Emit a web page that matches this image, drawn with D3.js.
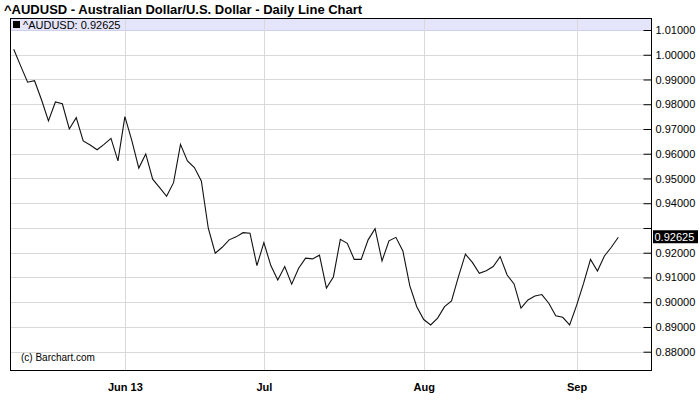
<!DOCTYPE html>
<html>
<head>
<meta charset="utf-8">
<script src="https://cdn.jsdelivr.net/npm/d3@7"></script>
<style>
    body { margin: 0; background: #fff; }
    svg text { font-family: "Liberation Sans", Arial, sans-serif; }
</style>
</head>
<body>
<script>
// daily closes, 10 May 2013 .. 10 Sep 2013 (trading days)
var closes = [
    1.0022, 0.9955, 0.9889, 0.9895, 0.9818, 0.9733, 0.9809, 0.9802, 0.9700, 0.9746,
    0.9652, 0.9635, 0.9616, 0.9638, 0.9662, 0.9571, 0.9750, 0.9653, 0.9542, 0.9599,
    0.9497, 0.9463, 0.9428, 0.9483, 0.9638, 0.9571, 0.9544, 0.9490, 0.9299, 0.9198,
    0.9222, 0.9252, 0.9264, 0.9281, 0.9279, 0.9148, 0.9241, 0.9148, 0.9090, 0.9144,
    0.9073, 0.9137, 0.9178, 0.9175, 0.9190, 0.9057, 0.9102, 0.9254, 0.9238, 0.9173,
    0.9173, 0.9252, 0.9297, 0.9167, 0.9248, 0.9262, 0.9207, 0.9066, 0.8982, 0.8930,
    0.8908, 0.8936, 0.8982, 0.9005, 0.9103, 0.9194, 0.9161, 0.9117, 0.9127, 0.9144,
    0.9184, 0.9110, 0.9074, 0.8976, 0.9009, 0.9025, 0.9031, 0.8996, 0.8945, 0.8939,
    0.8908, 0.8987, 0.9076, 0.9173, 0.9126, 0.9187, 0.9222, 0.92625
];
var monthIdx = [16, 36, 59, 81];
var monthLabels = ["Jun 13", "Jul", "Aug", "Sep"];
var priceTicks = [0.88, 0.89, 0.90, 0.91, 0.92, 0.93, 0.94, 0.95, 0.96, 0.97, 0.98, 0.99, 1.00, 1.01];
var symbol = "^AUDUSD";
var lastPrice = 0.92625;

var width = 700,
    height = 411;
var plotL = 10.5, plotR = 651.5, plotT = 18.5, plotB = 370.5;

var svg = d3.select("body").append("svg")
    .attr("width", width)
    .attr("height", height);

var x = d3.scaleLinear()
    .domain([0, closes.length - 1])
    .range([13.7, 618.3]);
var y = d3.scaleLinear()
    .domain([0.88, 1.01])
    .range([351.7, 30]);

svg.append("text")
    .attr("x", 4)
    .attr("y", 14)
    .style("font-size", "13px")
    .style("font-weight", "bold")
    .text(symbol + " - Australian Dollar/U.S. Dollar - Daily Line Chart");

// header band
svg.append("rect")
    .attr("x", plotL)
    .attr("y", plotT)
    .attr("width", plotR - plotL)
    .attr("height", 12)
    .attr("fill", "#e4e4fa");
svg.append("line")
    .attr("x1", plotL).attr("x2", plotR)
    .attr("y1", plotT + 12).attr("y2", plotT + 12)
    .attr("stroke", "#cfcfef");

// grid
svg.selectAll(".hgrid").data(priceTicks.filter(function(d) { return d < 1.005; }))
    .enter().append("line")
    .attr("class", "hgrid")
    .attr("x1", plotL).attr("x2", plotR)
    .attr("y1", function(d) { return Math.round(y(d)) + 0.5; })
    .attr("y2", function(d) { return Math.round(y(d)) + 0.5; })
    .attr("stroke", "#d9d9d9");
svg.selectAll(".vgrid").data(monthIdx)
    .enter().append("line")
    .attr("class", "vgrid")
    .attr("x1", function(d) { return Math.round(x(d)) + 0.5; })
    .attr("x2", function(d) { return Math.round(x(d)) + 0.5; })
    .attr("y1", plotT).attr("y2", plotB)
    .attr("stroke", "#d9d9d9");

// legend
svg.append("rect")
    .attr("x", 13).attr("y", 21)
    .attr("width", 7).attr("height", 7)
    .attr("fill", "#000");
svg.append("text")
    .attr("x", 23)
    .attr("y", 28.5)
    .style("font-size", "11px")
    .text(symbol + ": " + d3.format(".5f")(lastPrice));

svg.append("text")
    .attr("x", 21)
    .attr("y", 361)
    .style("font-size", "10px")
    .text("(c) Barchart.com");

// price line
var line = d3.line()
    .x(function(d, i) { return x(i); })
    .y(function(d) { return y(d); });
svg.append("path")
    .datum(closes)
    .attr("d", line)
    .attr("fill", "none")
    .attr("stroke", "#111")
    .attr("stroke-width", 1.1);

// frame
svg.append("rect")
    .attr("x", plotL).attr("y", plotT)
    .attr("width", plotR - plotL)
    .attr("height", plotB - plotT)
    .attr("fill", "none")
    .attr("stroke", "#000");

// right axis
var yAxis = d3.axisRight(y)
    .tickValues(priceTicks)
    .tickSize(0)
    .tickPadding(4)
    .tickFormat(d3.format(".5f"));
var ya = svg.append("g")
    .attr("transform", "translate(" + plotR + ",0)")
    .call(yAxis);
ya.select(".domain").remove();
ya.selectAll(".tick line")
    .attr("x1", -8).attr("x2", 0)
    .attr("stroke", "#000");
ya.selectAll(".tick text")
    .style("font-size", "11px")
    .style("font-family", "'Liberation Sans', Arial, sans-serif")
    .attr("fill", "#000")
    .style("display", function(d) { return Math.abs(y(d) - y(lastPrice)) < 12 ? "none" : null; });

// last price marker
svg.append("rect")
    .attr("x", plotR + 1.5)
    .attr("y", y(lastPrice) - 7)
    .attr("width", 45)
    .attr("height", 13)
    .attr("fill", "#000");
svg.append("text")
    .attr("x", plotR + 3)
    .attr("y", y(lastPrice) + 4)
    .style("font-size", "11px")
    .attr("fill", "#fff")
    .text(d3.format(".5f")(lastPrice));

// bottom axis
var xAxis = d3.axisBottom(x)
    .tickValues(monthIdx)
    .tickSize(0)
    .tickPadding(13)
    .tickFormat(function(d, i) { return monthLabels[i]; });
var xa = svg.append("g")
    .attr("transform", "translate(0," + plotB + ")")
    .call(xAxis);
xa.select(".domain").remove();
xa.selectAll(".tick text")
    .style("font-size", "11px")
    .style("font-weight", "bold")
    .style("font-family", "'Liberation Sans', Arial, sans-serif")
    .attr("fill", "#000");
</script>
</body>
</html>
